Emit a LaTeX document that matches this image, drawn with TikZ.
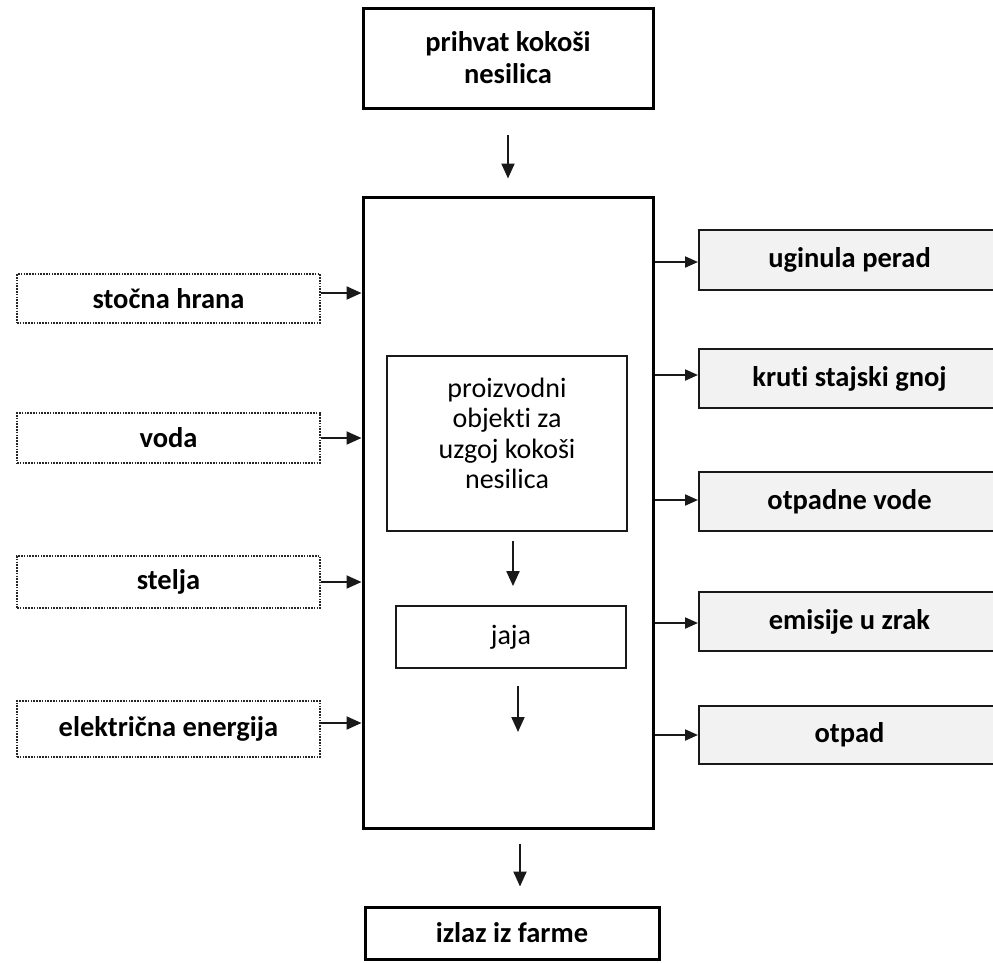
\documentclass[tikz,border=0pt]{standalone}
\usepackage{fontspec}
\setmainfont{Carlito}[Ligatures={NoCommon,NoContextual},Contextuals={NoAlternate}]
\usetikzlibrary{arrows.meta}
\begin{document}
\begin{tikzpicture}[x=1pt,y=-1pt,
  boldtxt/.style={font=\fontsize{28.5}{32}\selectfont\bfseries, align=center, inner sep=0pt},
  regtxt/.style={font=\fontsize{28}{30.5}\selectfont, align=center, inner sep=0pt},
  thickbox/.style={draw=black, line width=3pt, fill=white, boldtxt},
  dotbox/.style={draw=black!85, line width=2pt, dash pattern=on 1.6pt off 1.2pt, boldtxt, minimum width=303pt},
  outbox/.style={draw=black!90, line width=2pt, fill=black!5, boldtxt, minimum width=301pt},
  innerbox/.style={draw=black!90, line width=1.8pt, regtxt},
  arr/.style={draw=black!90, line width=2pt, -{Triangle[length=15pt,width=13pt]}},
  sarr/.style={draw=black!90, line width=2pt, -{Triangle[length=13pt,width=11pt]}}
]
\clip (0,0) rectangle (993,962);
\fill[white] (0,0) rectangle (993,962);

% top and bottom
\node[thickbox, minimum width=290pt, minimum height=100pt] (top) at (508,58) {prihvat kokoši\\nesilica};
\node[thickbox, minimum width=290pt, minimum height=631pt] (main) at (508,512.5) {};
\node[thickbox, minimum width=294pt, minimum height=52pt] (bot) at (512,933) {izlaz iz farme};

% inner
\node[innerbox, minimum width=240pt, minimum height=175pt] (in) at (507,443.5) {};
\node[regtxt] (intxt) at ([yshift=10pt]in.center) {proizvodni\\objekti za\\uzgoj kokoši\\nesilica};
\node[innerbox, minimum width=230pt, minimum height=62pt] (jaja) at (511,637) {jaja};
\coordinate (jend) at (518,732);

% left inputs
\node[dotbox, minimum height=49pt] (l1) at (168.5,298.5) {stočna hrana};
\node[dotbox, minimum height=50pt] (l2) at (168.5,438) {voda};
\node[dotbox, minimum height=52pt] (l3) at (168.5,582) {stelja};
\node[dotbox, minimum height=56pt] (l4) at (168.5,729) {električna energija};

% right outputs
\node[outbox, minimum height=60pt] (r1) at (849.5,260) {uginula perad};
\node[outbox, minimum height=59pt] (r2) at (849.5,378.5) {kruti stajski gnoj};
\node[outbox, minimum height=59pt] (r3) at (849.5,501.5) {otpadne vode};
\node[outbox, minimum height=59pt] (r4) at (849.5,621.5) {emisije u zrak};
\node[outbox, minimum height=58pt] (r5) at (849.5,735) {otpad};

% vertical arrows
\draw[arr, shorten <=25pt, shorten >=17pt] (top.south) -- (main.north);
\draw[arr, shorten <=9pt, shorten >=19pt] ([xshift=6pt]in.south) -- ([xshift=6pt]in.south |- jaja.north);
\draw[arr, shorten <=17pt] ([xshift=7pt]jaja.south) -- (jend);
\draw[arr, shorten <=14pt, shorten >=19pt] ([xshift=12pt]main.south) -- ([xshift=12pt]main.south |- bot.north);

% left arrows
\draw[arr] ([yshift=5.5pt]l1.east) -- ([yshift=5.5pt]l1.east -| main.west);
\draw[arr] (l2.east) -- (l2.east -| main.west);
\draw[arr] (l3.east) -- (l3.east -| main.west);
\draw[arr] ([yshift=6pt]l4.east) -- ([yshift=6pt]l4.east -| main.west);

% right arrows
\draw[sarr] ([yshift=-2pt]r1.west -| main.east) -- ([yshift=-2pt]r1.west);
\draw[sarr] ([yshift=3.5pt]r2.west -| main.east) -- ([yshift=3.5pt]r2.west);
\draw[sarr] ([yshift=1.5pt]r3.west -| main.east) -- ([yshift=1.5pt]r3.west);
\draw[sarr] ([yshift=-1.5pt]r4.west -| main.east) -- ([yshift=-1.5pt]r4.west);
\draw[sarr] (r5.west -| main.east) -- (r5.west);
\end{tikzpicture}
\end{document}
